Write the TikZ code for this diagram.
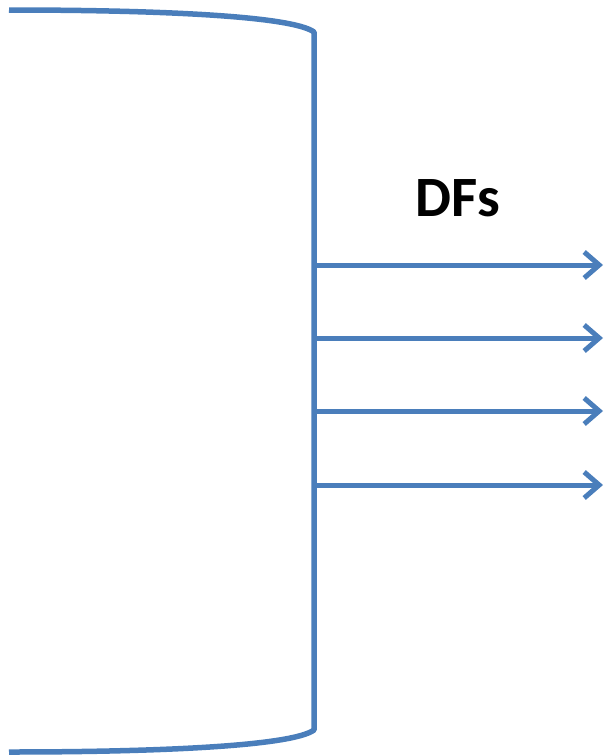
\documentclass[tikz,border=0pt]{standalone}
\usepackage{fontspec}
\setmainfont{Carlito}
\usetikzlibrary{arrows.meta}
\definecolor{obl}{HTML}{4A7EBB}
\begin{document}
\begin{tikzpicture}[x=1pt,y=-1pt,
  outline/.style={draw=obl,line width=5.5pt,line join=round},
  dfarrow/.style={draw=obl,line width=5pt,-{Straight Barb[length=15pt,width=26pt,line width=5pt]}}]
\useasboundingbox (0,0) rectangle (605,755);
\draw[outline] (9,10) .. controls (160,10) and (292,16) .. (314,32) -- (314,730) .. controls (292,746) and (160,752) .. (9,752);
\node[font=\bfseries\fontsize{57}{64}\selectfont,inner sep=0pt] (lbl) at (458,198) {DFs};
\foreach \i/\y in {1/265,2/338,3/411,4/485}{
  \coordinate (s\i) at (316,\y);
  \coordinate (e\i) at (603,\y);
  \draw[dfarrow] (s\i) -- (e\i);
}
\end{tikzpicture}
\end{document}
